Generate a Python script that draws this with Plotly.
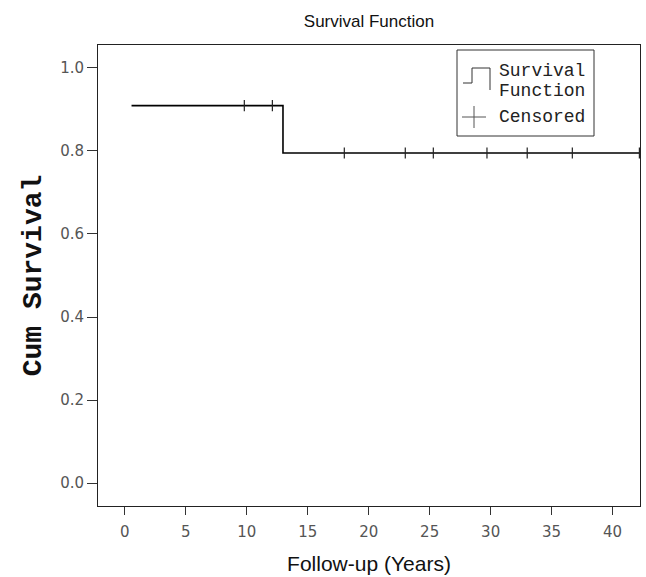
import plotly.graph_objects as go

# Survival step function (years, cumulative survival)
step_times = [0.55, 12.97, 12.97, 42.2]
step_surv = [0.909, 0.909, 0.795, 0.795]

# Censored observations
cens_times = [9.8, 12.1, 18.0, 23.0, 25.3, 29.7, 33.0, 36.7, 42.2]
cens_surv = [0.909, 0.909, 0.795, 0.795, 0.795, 0.795, 0.795, 0.795, 0.795]

x_ticks = [0, 5, 10, 15, 20, 25, 30, 35, 40]
y_ticks = [0.0, 0.2, 0.4, 0.6, 0.8, 1.0]
y_tick_labels = ["0.0", "0.2", "0.4", "0.6", "0.8", "1.0"]

fig = go.Figure()
fig.add_trace(go.Scatter(x=step_times, y=step_surv, mode="lines",
                         line=dict(color="black", width=1.6, shape="hv"),
                         showlegend=False, hoverinfo="skip", cliponaxis=False))
fig.add_trace(go.Scatter(x=cens_times, y=cens_surv, mode="markers",
                         marker=dict(symbol="line-ns", size=8,
                                     line=dict(color="#222", width=1.2)),
                         showlegend=False, hoverinfo="skip", cliponaxis=False))

W, H = 646, 577
L, R, T, B = 98, 6, 45, 71
pw, ph = W - L - R, H - T - B

def px(x):
    return (x - L) / pw

def py(y):
    return (H - B - y) / ph

shapes = []
# legend box
shapes.append(dict(type="rect", xref="paper", yref="paper",
                   x0=px(457), x1=px(594), y0=py(136), y1=py(50),
                   line=dict(color="#333", width=1), fillcolor="white"))
# step icon
shapes.append(dict(type="path", xref="paper", yref="paper",
                   path=f"M {px(463)} {py(83)} L {px(472)} {py(83)} L {px(472)} {py(68)} "
                        f"L {px(490)} {py(68)} L {px(490)} {py(90)}",
                   line=dict(color="#333", width=1)))
# plus icon
shapes.append(dict(type="line", xref="paper", yref="paper",
                   x0=px(462), x1=px(486), y0=py(117), y1=py(117),
                   line=dict(color="#555", width=1)))
shapes.append(dict(type="line", xref="paper", yref="paper",
                   x0=px(474), x1=px(474), y0=py(106), y1=py(128),
                   line=dict(color="#555", width=1)))

legend_font = dict(family="Liberation Mono, Courier New, monospace", size=18, color="#222")
annotations = [
    dict(text="Survival", xref="paper", yref="paper", x=px(497), y=py(71),
         xanchor="left", yanchor="middle", showarrow=False, font=legend_font),
    dict(text="Function", xref="paper", yref="paper", x=px(497), y=py(91),
         xanchor="left", yanchor="middle", showarrow=False, font=legend_font),
    dict(text="Censored", xref="paper", yref="paper", x=px(497), y=py(117),
         xanchor="left", yanchor="middle", showarrow=False, font=legend_font),
]

fig.update_layout(
    width=W, height=H,
    margin=dict(l=L, r=R, t=T, b=B, autoexpand=False),
    paper_bgcolor="white", plot_bgcolor="white",
    title=dict(text="Survival Function", x=(L + pw / 2) / W, xanchor="center",
               y=1 - 21 / H, yanchor="middle",
               font=dict(family="Liberation Sans, Arial", size=17, color="#111")),
    shapes=shapes, annotations=annotations,
    xaxis=dict(range=[-2.2, 42.25], tickvals=x_ticks, ticks="outside", ticklen=8,
               tickcolor="#333", showgrid=False, zeroline=False, automargin=False,
               showline=True, linecolor="#222", linewidth=1, mirror=True,
               ticklabelstandoff=4,
               tickfont=dict(family="DejaVu Sans", size=15, color="#555"),
               title=dict(text="Follow-up (Years)", standoff=16,
                          font=dict(family="Liberation Sans, Arial", size=21, color="#111"))),
    yaxis=dict(range=[-0.055, 1.055], tickvals=y_ticks, ticktext=y_tick_labels,
               ticks="outside", ticklen=10, tickcolor="#333", automargin=False,
               showgrid=False, zeroline=False,
               showline=True, linecolor="#222", linewidth=1, mirror=True,
               tickfont=dict(family="DejaVu Sans", size=15, color="#555"),
               title=dict(text="<b>Cum Survival</b>", standoff=10,
                          font=dict(family="Liberation Mono, Courier New, monospace", size=28, color="#111"))),
)

fig.write_html("out.html", config={"displayModeBar": False},
               post_script="document.body.style.margin='0';")
